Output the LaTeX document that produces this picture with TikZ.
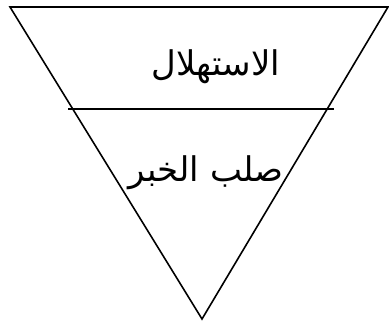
\documentclass[tikz,border=0pt]{standalone}
\usepackage{fontspec}
\TeXXeTstate=1
\newfontfamily\arabicfont[Script=Arabic]{DejaVu Sans}
\begin{document}
\begin{tikzpicture}[x=1pt,y=-1pt,
  edge/.style={draw=black,line width=1.6pt,line join=miter},
  lbl/.style={font=\arabicfont\fontsize{34}{40}\selectfont,inner sep=0pt}]
\useasboundingbox (0,0) rectangle (389,322);
\coordinate (tl) at (10,7);
\coordinate (tr) at (388,7);
\coordinate (ap) at (202,319);
\coordinate (hl) at (68,109);
\coordinate (hr) at (334,109);
\draw[edge] (tl) -- (tr) -- (ap) -- cycle;
\draw[edge] (hl) -- (hr);
\node[lbl] (intro) at (216,67) {\beginR الاستهلال\endR};
\node[lbl] (body) at (206,173) {\beginR صلب الخبر\endR};
\end{tikzpicture}
\end{document}
